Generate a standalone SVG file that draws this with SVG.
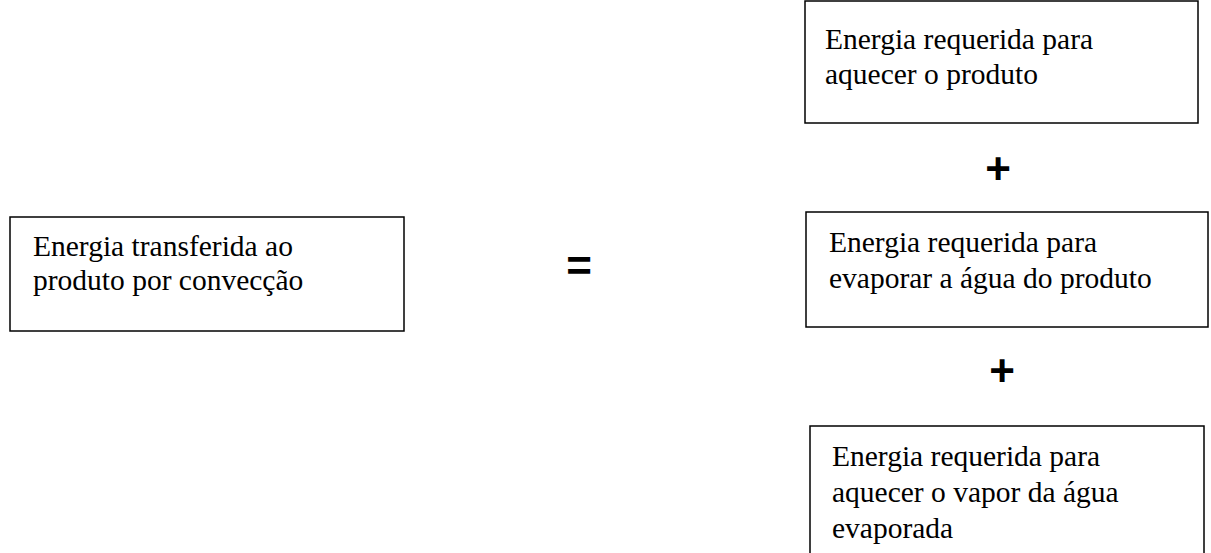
<svg xmlns="http://www.w3.org/2000/svg" width="1211" height="553" viewBox="0 0 1211 553">
<style>
.box{fill:#fff;stroke:#000;stroke-width:1.5}
.t{font-family:"Liberation Serif","Times New Roman",serif;font-size:29.5px;fill:#000}
.op{font-family:"Liberation Sans",Arial,sans-serif;font-size:44px;font-weight:bold;fill:#000;text-anchor:middle}
</style>
<rect width="1211" height="553" fill="#fff"/>
<g id="left">
<rect class="box" x="10" y="217" width="394" height="114"/>
<text class="t" x="33" y="256">Energia transferida ao</text>
<text class="t" x="33" y="290">produto por convecção</text>
</g>
<g id="box1">
<rect class="box" x="805" y="1" width="393" height="122"/>
<text class="t" x="825" y="49">Energia requerida para</text>
<text class="t" x="825" y="84">aquecer o produto</text>
</g>
<g id="box2">
<rect class="box" x="806" y="212" width="402" height="115"/>
<text class="t" x="829" y="252">Energia requerida para</text>
<text class="t" x="829" y="288">evaporar a água do produto</text>
</g>
<g id="box3">
<rect class="box" x="810" y="426" width="394" height="140"/>
<text class="t" x="832" y="466">Energia requerida para</text>
<text class="t" x="832" y="502">aquecer o vapor da água</text>
<text class="t" x="832" y="538">evaporada</text>
</g>
<g id="connectors">
<text class="op" x="579" y="281">=</text>
<text class="op" x="998" y="184">+</text>
<text class="op" x="1002" y="386">+</text>
</g>
</svg>
